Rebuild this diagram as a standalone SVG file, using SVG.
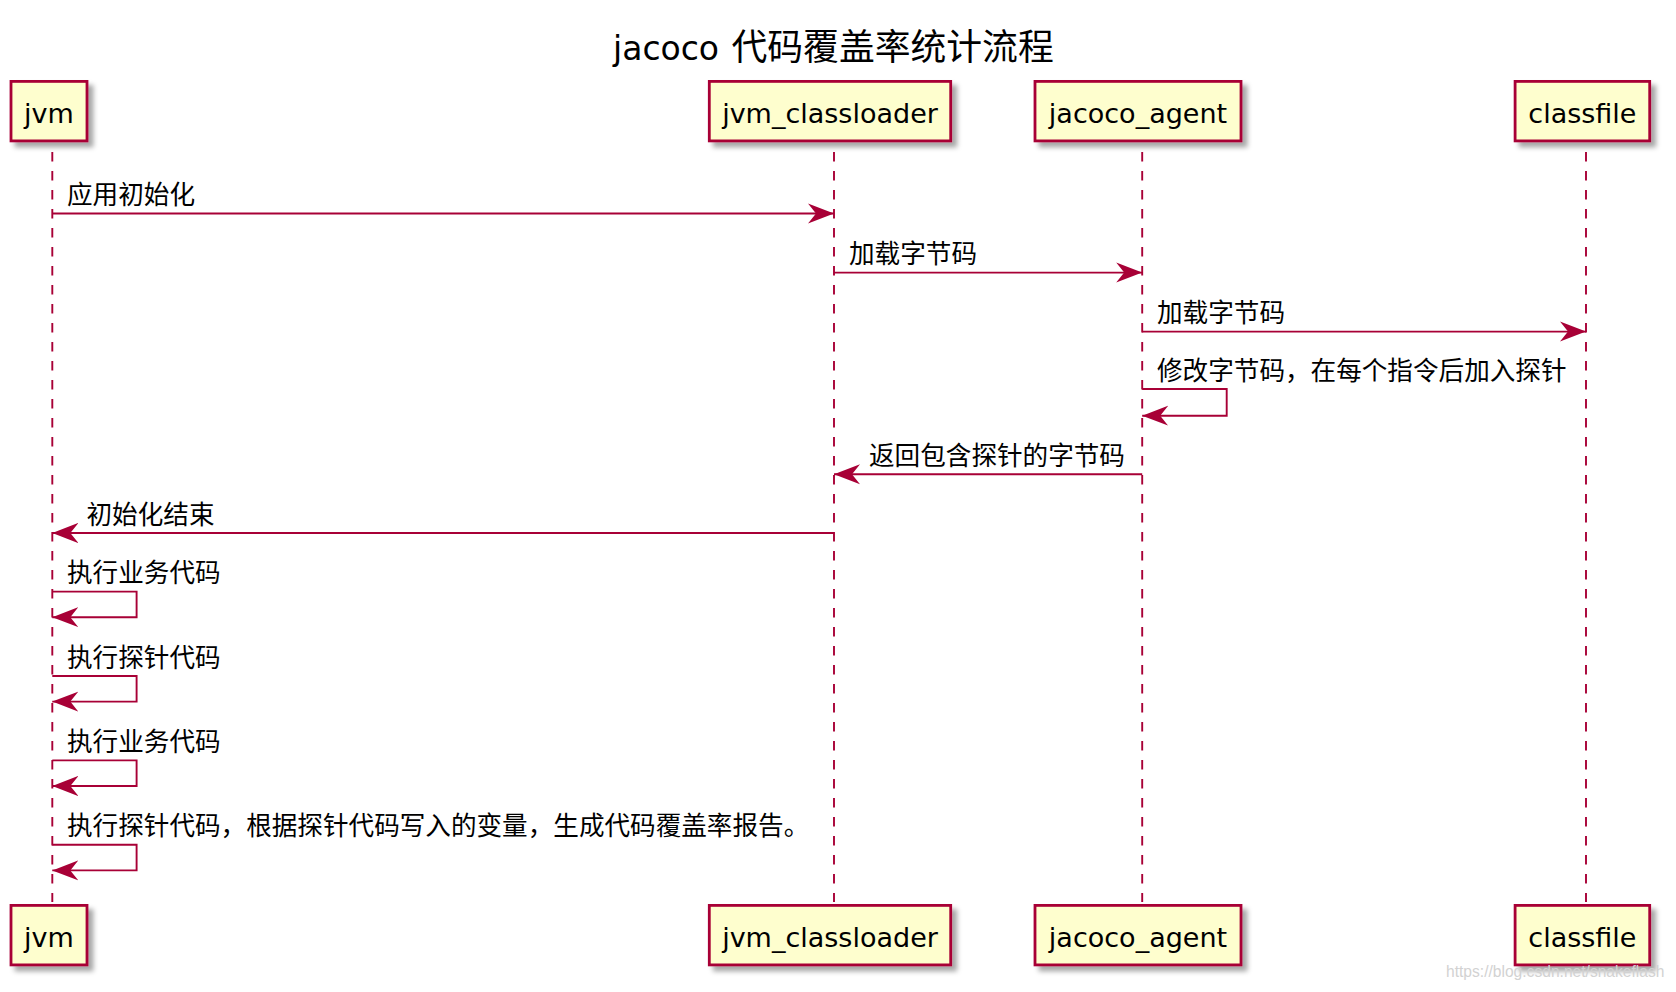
<svg xmlns="http://www.w3.org/2000/svg" width="1676" height="992" viewBox="0 0 1676 992">
<defs>
<style>
.box{fill:#FEFECE;stroke:#A80036;stroke-width:2.8;}
.ptxt{font-family:"DejaVu Sans","Liberation Sans",sans-serif;font-size:27px;fill:#000;text-anchor:middle;}
.life{stroke:#A80036;stroke-width:1.9;stroke-dasharray:9.5,9.5;fill:none;}
.msg{stroke:#A80036;stroke-width:1.9;fill:none;marker-end:url(#ah);}
.lbl{font-family:"Noto Sans CJK SC","Noto Sans",sans-serif;font-size:25.6px;fill:#000;}
</style>
<filter id="sh" x="-20%" y="-20%" width="150%" height="160%">
<feDropShadow dx="5" dy="5" stdDeviation="2.5" flood-color="#000" flood-opacity="0.35"/>
</filter>
<marker id="ah" markerUnits="userSpaceOnUse" markerWidth="30" markerHeight="24" refX="26" refY="11" orient="auto">
<path d="M0,1 L26,11 L0,21 L8,11 Z" fill="#A80036"/>
</marker>
</defs>
<rect width="1676" height="992" fill="#fff"/>
<text x="613" y="59.5" font-family="DejaVu Sans,Liberation Sans,sans-serif" font-size="33" fill="#000">jacoco</text>
<text x="731.5" y="59.5" font-family="Noto Sans CJK SC,sans-serif" font-size="35.8" fill="#000">代码覆盖率统计流程</text>
<g id="lifelines">
<line class="life" x1="52.3" y1="152" x2="52.3" y2="902"/>
<line class="life" x1="834" y1="152" x2="834" y2="902"/>
<line class="life" x1="1142.2" y1="152" x2="1142.2" y2="902"/>
<line class="life" x1="1586" y1="152" x2="1586" y2="902"/>
</g>
<g id="jvm">
<rect class="box" x="11" y="81.4" width="76" height="59.5" filter="url(#sh)"/>
<text class="ptxt" x="49" y="123">jvm</text>
<rect class="box" x="11" y="905.4" width="76" height="59.5" filter="url(#sh)"/>
<text class="ptxt" x="49" y="947">jvm</text>
</g>
<g id="jvm_classloader">
<rect class="box" x="709.3" y="81.4" width="241.4" height="59.5" filter="url(#sh)"/>
<text class="ptxt" x="830" y="123">jvm_classloader</text>
<rect class="box" x="709.3" y="905.4" width="241.4" height="59.5" filter="url(#sh)"/>
<text class="ptxt" x="830" y="947">jvm_classloader</text>
</g>
<g id="jacoco_agent">
<rect class="box" x="1035" y="81.4" width="206" height="59.5" filter="url(#sh)"/>
<text class="ptxt" x="1138" y="123">jacoco_agent</text>
<rect class="box" x="1035" y="905.4" width="206" height="59.5" filter="url(#sh)"/>
<text class="ptxt" x="1138" y="947">jacoco_agent</text>
</g>
<g id="classfile">
<rect class="box" x="1515.1" y="81.4" width="134.6" height="59.5" filter="url(#sh)"/>
<text class="ptxt" x="1582.4" y="123">classfile</text>
<rect class="box" x="1515.1" y="905.4" width="134.6" height="59.5" filter="url(#sh)"/>
<text class="ptxt" x="1582.4" y="947">classfile</text>
</g>
<g id="connectors">
<path class="msg" d="M52.3,213.5 H834"/>
<path class="msg" d="M834,272.6 H1142.2"/>
<path class="msg" d="M1142.2,331.6 H1586"/>
<path class="msg" d="M1142.2,389 H1226.7 V415.7 H1142.2"/>
<path class="msg" d="M1142.2,474.3 H834"/>
<path class="msg" d="M834,533 H52.3"/>
<path class="msg" d="M52.3,591.6 H136.6 V617.2 H52.3"/>
<path class="msg" d="M52.3,676 H136.6 V701.6 H52.3"/>
<path class="msg" d="M52.3,760.4 H136.6 V786 H52.3"/>
<path class="msg" d="M52.3,844.8 H136.6 V870.4 H52.3"/>
</g>
<g id="labels">
<text class="lbl" x="67" y="204">应用初始化</text>
<text class="lbl" x="849" y="263.1">加载字节码</text>
<text class="lbl" x="1157" y="322.1">加载字节码</text>
<text class="lbl" x="1157" y="379.5">修改字节码，在每个指令后加入探针</text>
<text class="lbl" x="869" y="464.8">返回包含探针的字节码</text>
<text class="lbl" x="86.5" y="523.5">初始化结束</text>
<text class="lbl" x="67" y="582.1">执行业务代码</text>
<text class="lbl" x="67" y="666.5">执行探针代码</text>
<text class="lbl" x="67" y="750.9">执行业务代码</text>
<text class="lbl" x="67" y="835.3">执行探针代码，根据探针代码写入的变量，生成代码覆盖率报告。</text>
</g>
<text x="1446" y="977" font-family="Liberation Sans,Arial,sans-serif" font-size="15.6" fill="#d2d2d2">https://blog.csdn.net/snakeflash</text>
</svg>
